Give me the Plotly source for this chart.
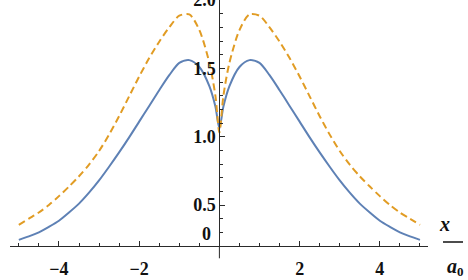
import plotly.graph_objects as go

# values
x_vals = [-5, -4.75, -4.5, -4.25, -4, -3.75, -3.5, -3.25, -3, -2.75, -2.5, -2.25, -2, -1.75, -1.5,
          -1.25, -1, -0.75, -0.5, -0.25, -0.1, 0, 0.1, 0.25, 0.5, 0.75, 1, 1.25, 1.5, 1.75, 2,
          2.25, 2.5, 2.75, 3, 3.25, 3.5, 3.75, 4, 4.25, 4.5, 4.75, 5]
blue_vals = [0.245, 0.27, 0.30, 0.34, 0.385, 0.445, 0.51, 0.59, 0.68, 0.78, 0.885, 0.995, 1.11, 1.225, 1.34,
             1.45, 1.54, 1.56, 1.51, 1.37, 1.22, 1.06, 1.22, 1.37, 1.51, 1.56, 1.54, 1.45, 1.34, 1.225, 1.11,
             0.995, 0.885, 0.78, 0.68, 0.59, 0.51, 0.445, 0.385, 0.34, 0.30, 0.27, 0.245]
orange_vals = [0.355, 0.40, 0.445, 0.50, 0.565, 0.635, 0.71, 0.795, 0.895, 1.015, 1.15, 1.295, 1.44, 1.575, 1.695,
               1.80, 1.885, 1.895, 1.78, 1.54, 1.30, 1.03, 1.30, 1.54, 1.78, 1.895, 1.885, 1.80, 1.695, 1.575, 1.44,
               1.295, 1.15, 1.015, 0.895, 0.795, 0.71, 0.635, 0.565, 0.50, 0.445, 0.40, 0.355]
x_ticks = [-4, -2, 2, 4]
x_tick_text = ["\u22124", "\u22122", "2", "4"]
y_ticks = [0.5, 1.0, 1.5, 2.0]
y_tick_text = ["0.5", "1.0", "1.5", "2.0"]

FONT = "Times New Roman"
AX = "#2a2a2a"
TXT = "#111"

fig = go.Figure()
fig.add_trace(go.Scatter(x=x_vals, y=blue_vals, mode="lines",
                         line=dict(color="#5E81B5", width=2, shape="spline", smoothing=0.8),
                         hoverinfo="skip"))
fig.add_trace(go.Scatter(x=x_vals, y=orange_vals, mode="lines",
                         line=dict(color="#E19C24", width=2, dash="7px,4px", shape="spline", smoothing=0.8),
                         hoverinfo="skip"))

xr = [-5.22, 5.2]
ypos = (0 - xr[0]) / (xr[1] - xr[0])

fig.update_layout(
    width=468, height=280,
    margin=dict(l=10, r=40, t=0, b=34, autoexpand=False),
    paper_bgcolor="white", plot_bgcolor="white",
    showlegend=False,
    font=dict(family=FONT, size=18, color=TXT),
    xaxis=dict(range=xr, showgrid=False, zeroline=False, showline=True, linecolor=AX, linewidth=1,
               tickvals=x_ticks, ticktext=[f"<b>{t}</b>" for t in x_tick_text],
               ticks="inside", ticklen=5, tickcolor=AX, automargin=False,
               tickfont=dict(family=FONT, size=18, color=TXT, weight="bold"),
               minor=dict(dtick=0.5, tick0=0, ticks="inside", ticklen=3, tickcolor=AX),
               ticklabelstandoff=6, ticklabeloverflow="allow"),
    yaxis=dict(range=[0.2, 2.0], showgrid=False, zeroline=False, showline=True, linecolor=AX,
               linewidth=1, anchor="free", position=ypos, side="left", automargin=False,
               tickvals=y_ticks, ticktext=[f"<b>{t}</b>" for t in y_tick_text],
               ticks="inside", ticklen=5, tickcolor=AX,
               tickfont=dict(family=FONT, size=18, color=TXT, weight="bold"),
               minor=dict(dtick=0.1, tick0=0, ticks="inside", ticklen=3, tickcolor=AX),
               ticklabeloverflow="allow"),
)

# extension of y axis below the x axis
fig.add_shape(type="line", xref="paper", yref="paper", x0=ypos, x1=ypos, y0=0, y1=-0.05,
              line=dict(color=AX, width=1))
# "0" label
fig.add_annotation(xref="paper", yref="y", x=ypos, y=0.285, text="<b>0</b>", showarrow=False,
                   xanchor="right", xshift=-6, font=dict(family=FONT, size=18, color=TXT))
# x / a0 label
fig.add_annotation(xref="paper", yref="paper", x=(452 - 10) / 418, y=(246 - 224) / 246,
                   text="<b><i>x</i></b>", showarrow=False, yanchor="middle",
                   font=dict(family=FONT, size=20, color=TXT))
fig.add_shape(type="line", xref="paper", yref="paper", x0=(443 - 10) / 418, x1=(463 - 10) / 418,
              y0=(246 - 242) / 246, y1=(246 - 242) / 246, line=dict(color=TXT, width=1.5))
fig.add_annotation(xref="paper", yref="paper", x=(445 - 10) / 418, y=(246 - 266) / 246,
                   text="<b><i>a</i></b>", showarrow=False, xanchor="left", yanchor="middle",
                   font=dict(family=FONT, size=20, color=TXT))
fig.add_annotation(xref="paper", yref="paper", x=(455 - 10) / 418, y=(246 - 271) / 246,
                   text="<b>0</b>", showarrow=False, xanchor="left", yanchor="middle",
                   font=dict(family=FONT, size=13, color=TXT))

fig.write_html("out.html")
